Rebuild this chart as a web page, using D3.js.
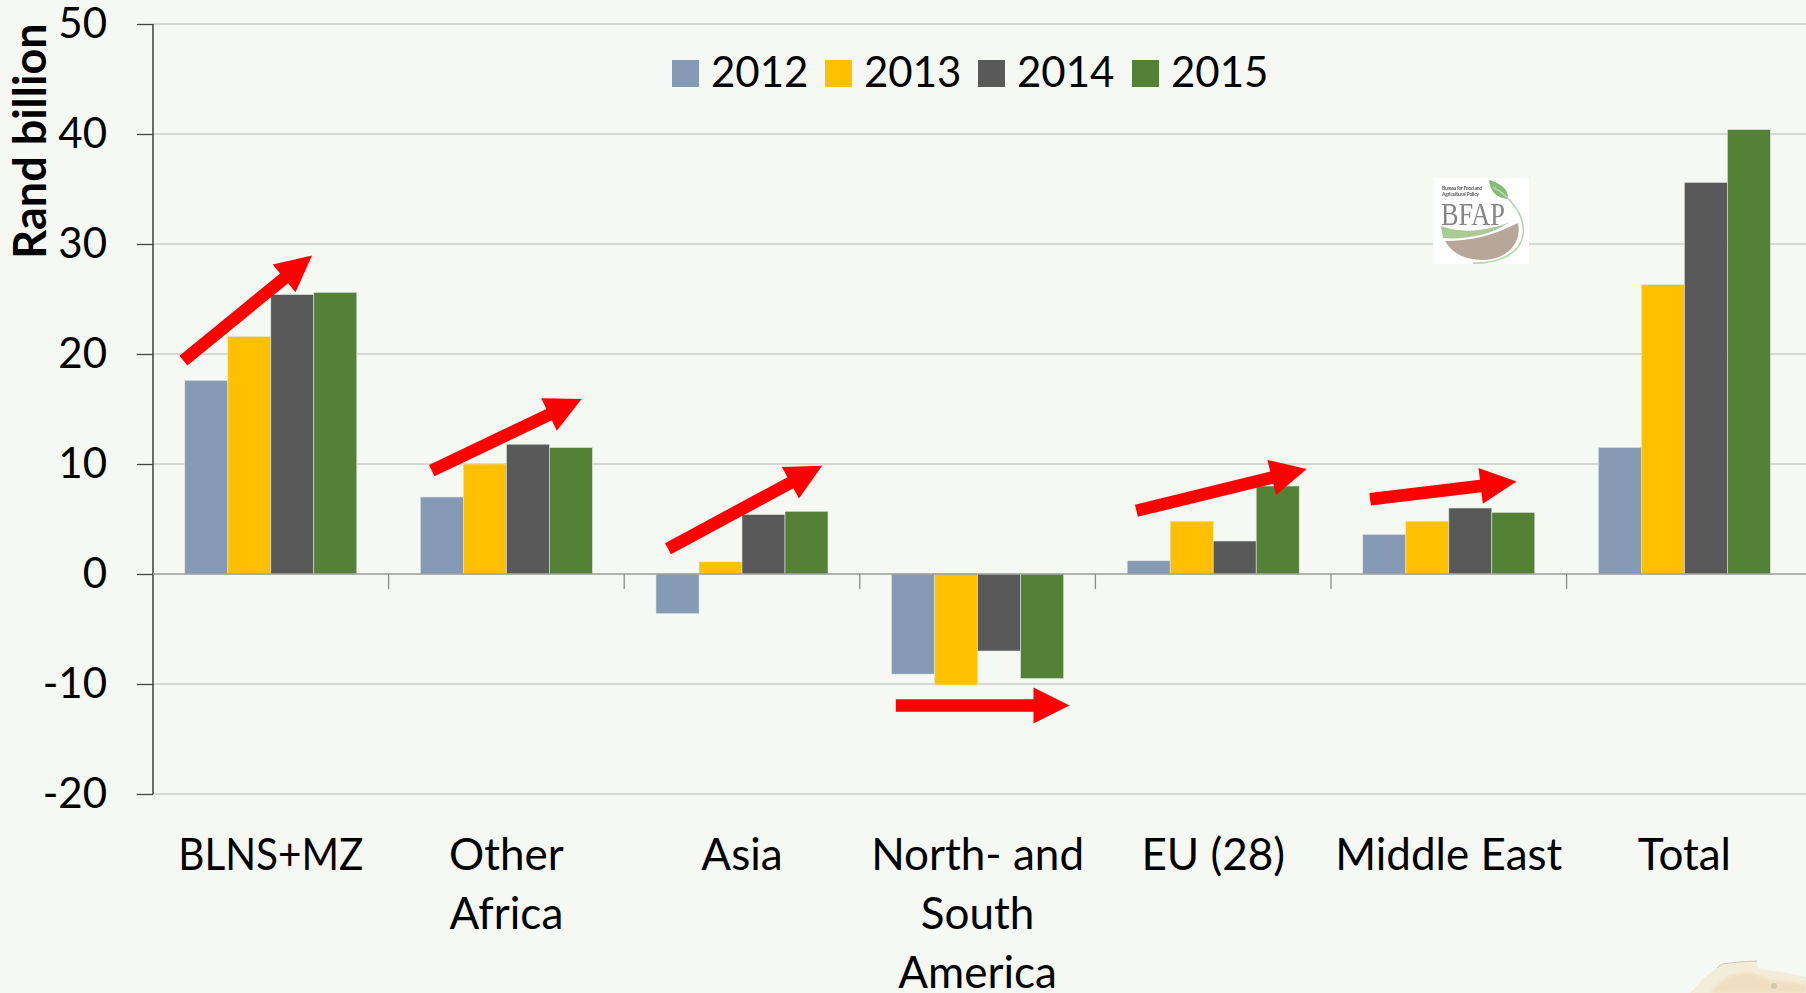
<!DOCTYPE html>
<html><head><meta charset="utf-8">
<style>html,body{margin:0;padding:0;background:#f6f8f3;overflow:hidden}svg{display:block}text{font-family:Lato,Carlito,"Open Sans",sans-serif;fill:#000}</style>
<script src="https://cdn.jsdelivr.net/npm/d3@7/dist/d3.min.js"></script>
</head><body><svg id="c" width="1806" height="993"><defs><filter id="soft"><feGaussianBlur stdDeviation="0.5"/></filter><filter id="soft2"><feGaussianBlur stdDeviation="1.6"/></filter></defs></svg>
<script>
const categories=[["BLNS+MZ"],["Other","Africa"],["Asia"],["North- and","South","America"],["EU (28)"],["Middle East"],["Total"]];
const years=["2012","2013","2014","2015"];
const colors=["#849ab5","#ffc000","#595959","#538135"];
const v2012=[17.6,7,-3.6,-9.1,1.2,3.6,11.5];
const v2013=[21.6,10,1.1,-10.1,4.8,4.8,26.3];
const v2014=[25.4,11.8,5.4,-7,3,6,35.6];
const v2015=[25.6,11.5,5.7,-9.5,8,5.6,40.4];
const yTicks=[-20,-10,0,10,20,30,40,50];
// trend arrows: [category position start, value start, category position end, value end]
const arrows=[[0.129,19.4,0.675,28.95],[1.183,9.4,1.819,15.9],[2.186,2.3,2.84,9.85],[3.153,-11.95,3.89,-11.95],[4.174,5.75,4.897,9.55],[5.166,6.8,5.787,8.4]];
const series=[v2012,v2013,v2014,v2015];
const svg=d3.select("#c");
const L=153,W=235.6,y=d3.scaleLinear().domain([-20,50]).range([794,24]);
const xPos=d3.scaleLinear().domain([0,7]).range([L,L+7*W]);
const x0=d3.scaleBand().domain(d3.range(7)).range([L,L+7*W]).paddingInner(0.27).paddingOuter(0.135);
const x1=d3.scaleBand().domain(d3.range(4)).range([0,x0.bandwidth()]);

// faint map fragment in the lower right corner of the slide background
const map=svg.append("g");
map.append("path").attr("d","M1690 993 L1704 978 L1717 968 L1722 964 L1738 962 L1757 961 L1759 969 L1782 972 L1806 977 L1806 993Z").attr("fill","#f3ecd8");
map.append("path").attr("d","M1712 990 L1728 976 L1750 972 L1770 980 L1806 984 L1806 993 L1712 993Z").attr("fill","#efdfc0").attr("filter","url(#soft2)");
map.append("path").attr("d","M1717 968 L1722 964 L1738 962 L1757 961").attr("fill","none").attr("stroke","#cfc8b2").attr("stroke-width",1);
map.append("circle").attr("cx",1774).attr("cy",986).attr("r",3).attr("fill","#d2c8ae").attr("filter","url(#soft)");

// gridlines
svg.append("g").selectAll("line").data(yTicks.filter(d=>d!==0)).join("line")
 .attr("x1",L).attr("x2",1806).attr("y1",d=>y(d)).attr("y2",d=>y(d)).attr("stroke","#cccdca").attr("stroke-width",1.4);

// logo
const logo=svg.append("g");
logo.append("rect").attr("x",1433).attr("y",178).attr("width",96).attr("height",86).attr("fill","#ffffff");
const lg2=logo.append("g").attr("filter","url(#soft)");
lg2.append("path").attr("d","M1489 180 C1501 183 1509 190 1508 199 C1497 198 1490 192 1489 180Z").attr("fill","#86bb78");
lg2.append("path").attr("d","M1493 187 C1510 197 1526 215 1523 235 C1520 254 1498 264 1473 263").attr("fill","none").attr("stroke","#b5d8a9").attr("stroke-width",1.6);
lg2.append("path").attr("d","M1441 226 C1462 234 1488 231 1510 222 C1490 236 1462 240 1443 238Z").attr("fill","#a9cb95");
lg2.append("path").attr("d","M1445 241 C1470 241 1492 236 1518 223 C1522 240 1510 259 1484 260 C1464 260 1452 253 1445 241Z").attr("fill","#b7a79b");
lg2.append("text").attr("x",1442).attr("y",189.5).attr("textLength",40).style("font-size","5px").style("font-weight","700").style("fill","#555").text("Bureau for Food and");
lg2.append("text").attr("x",1442).attr("y",196).attr("textLength",37).style("font-size","5px").style("font-weight","700").style("fill","#555").text("Agricultural Policy");
lg2.append("text").attr("x",1441).attr("y",225).attr("textLength",64).attr("lengthAdjust","spacingAndGlyphs").style("font-family","'Liberation Serif',serif").style("font-size","31px").style("fill","#858585").text("BFAP");

// bars
const g=svg.append("g").selectAll("g").data(series).join("g").attr("fill",(d,i)=>colors[i]);
g.each(function(s,si){
 d3.select(this).selectAll("rect").data(s).join("rect")
  .attr("x",(d,i)=>x0(i)+x1(si)).attr("width",x1.bandwidth())
  .attr("y",d=>y(Math.max(0,d))).attr("height",d=>Math.abs(y(d)-y(0)))
  .attr("stroke","#dfe3dc").attr("stroke-width",0.6);
});

// y axis
const ay=svg.append("g").attr("transform",`translate(${L},0)`).call(d3.axisLeft(y).tickValues(yTicks).tickSize(16).tickPadding(30).tickFormat(d=>String(d)));
ay.select(".domain").attr("stroke","#222").attr("stroke-width",1.3).attr("d",`M0,${y(50)}V${y(-20)}`);
ay.selectAll(".tick line").attr("stroke","#444").attr("stroke-width",1.3);
ay.selectAll("text").style("font-size","42px").style("font-family","Lato,Carlito,sans-serif").attr("fill","#000");

// zero axis
const ax=svg.append("g").attr("transform",`translate(0,${y(0)})`);
ax.append("line").attr("x1",L).attr("x2",1806).attr("stroke","#999b97").attr("stroke-width",1.5);
ax.selectAll("line.t").data(d3.range(1,7)).join("line").attr("class","t").attr("x1",d=>xPos(d)).attr("x2",d=>xPos(d)).attr("y1",0).attr("y2",15).attr("stroke","#8a8c88").attr("stroke-width",1.3);

// category labels
const fitted={"BLNS+MZ":185};
categories.forEach((lines,i)=>{
 const t=svg.append("text").attr("text-anchor","middle").style("font-size","44px");
 lines.forEach((s,k)=>{
  const sp=t.append("tspan").attr("x",xPos(i+0.5)).attr("y",870+k*59).text(s);
  if(fitted[s])sp.attr("textLength",fitted[s]).attr("lengthAdjust","spacingAndGlyphs");
 });
});

// axis title
svg.append("text").attr("transform","translate(46,141) rotate(-90)").attr("text-anchor","middle").style("font-size","45px").style("font-weight","700").text("Rand billion");

// legend
const lg=svg.append("g");
const lx=[672,825,978,1132];
years.forEach((yr,i)=>{
 lg.append("rect").attr("x",lx[i]).attr("y",60).attr("width",27).attr("height",27).attr("fill",colors[i]);
 lg.append("text").attr("x",lx[i]+39).attr("y",87).style("font-size","42px").text(yr);
});

// arrows
const agroup=svg.append("g").attr("fill","#ff0000");
arrows.forEach(([a,b,c,d])=>{
 const x1p=xPos(a),y1p=y(b),x2p=xPos(c),y2p=y(d);
 const ang=Math.atan2(y2p-y1p,x2p-x1p),len=Math.hypot(x2p-x1p,y2p-y1p);
 const h=36,sw=6.3,hw=18;
 agroup.append("path").attr("transform",`translate(${x1p},${y1p}) rotate(${ang*180/Math.PI})`)
  .attr("d",`M0,${-sw} L${len-h},${-sw} L${len-h},${-hw} L${len},0 L${len-h},${hw} L${len-h},${sw} L0,${sw}Z`);
});
</script></body></html>
